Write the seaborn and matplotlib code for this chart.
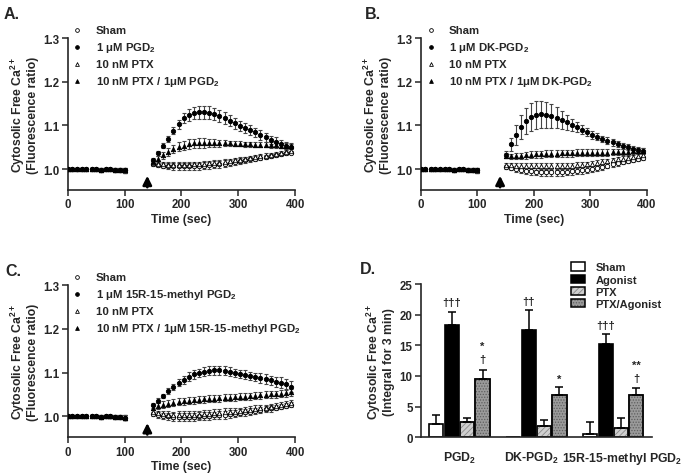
import pandas as pd
import matplotlib
matplotlib.use("Agg")
import matplotlib.pyplot as plt
from matplotlib.patches import Patch, Rectangle
from matplotlib.transforms import ScaledTranslation
import seaborn as sns

# ---- time course data (mean and error) ----
base_time = [0, 8, 17, 25, 33, 42, 50, 58, 67, 75, 83, 92, 100]
post_time = [150, 159, 168, 177, 186, 195, 204, 213, 222, 231, 240, 249, 258, 267,
             276, 285, 294, 303, 312, 321, 330, 339, 348, 357, 366, 375, 384, 393]

base_value = [1.000, 1.000, 1.001, 1.000, 1.001, 1.000, 1.000, 0.999, 1.000, 1.000, 0.999, 0.999, 0.997]
base_err = [0.002, 0.002, 0.002, 0.002, 0.002, 0.002, 0.002, 0.003, 0.002, 0.003, 0.003, 0.003, 0.005]

# A. PGD2
a_sham = [1.012, 1.010, 1.008, 1.007, 1.006, 1.006, 1.006, 1.006, 1.006, 1.007, 1.008, 1.009, 1.010, 1.011,
          1.012, 1.014, 1.016, 1.018, 1.020, 1.022, 1.024, 1.026, 1.028, 1.030, 1.032, 1.034, 1.036, 1.038]
a_sham_err = [0.004, 0.005, 0.006, 0.007, 0.007, 0.008, 0.008, 0.008, 0.008, 0.008, 0.008, 0.008, 0.008, 0.008,
              0.008, 0.007, 0.007, 0.007, 0.007, 0.006, 0.006, 0.006, 0.005, 0.005, 0.005, 0.004, 0.004, 0.004]
a_agonist = [1.020, 1.036, 1.054, 1.069, 1.088, 1.103, 1.117, 1.124, 1.128, 1.130, 1.130, 1.129, 1.126, 1.122,
             1.117, 1.111, 1.105, 1.099, 1.094, 1.089, 1.084, 1.078, 1.073, 1.067, 1.063, 1.058, 1.054, 1.050]
a_agonist_err = [0.006, 0.005, 0.005, 0.006, 0.008, 0.010, 0.012, 0.013, 0.014, 0.015, 0.015, 0.015, 0.014, 0.014,
                 0.013, 0.012, 0.012, 0.012, 0.011, 0.011, 0.011, 0.011, 0.010, 0.010, 0.010, 0.009, 0.009, 0.009]
a_ptx = [1.014, 1.012, 1.011, 1.010, 1.010, 1.010, 1.010, 1.010, 1.011, 1.011, 1.012, 1.013, 1.014, 1.015,
         1.016, 1.018, 1.020, 1.021, 1.023, 1.025, 1.027, 1.029, 1.031, 1.033, 1.035, 1.037, 1.039, 1.041]
a_ptx_err = [0.004, 0.005, 0.005, 0.006, 0.006, 0.006, 0.006, 0.006, 0.006, 0.006, 0.006, 0.006, 0.006, 0.006,
             0.006, 0.006, 0.006, 0.006, 0.005, 0.005, 0.005, 0.005, 0.005, 0.005, 0.005, 0.004, 0.004, 0.004]
a_ptxag = [1.016, 1.024, 1.032, 1.040, 1.046, 1.051, 1.054, 1.057, 1.059, 1.060, 1.060, 1.060, 1.060, 1.059,
           1.059, 1.059, 1.058, 1.058, 1.057, 1.057, 1.056, 1.056, 1.056, 1.055, 1.055, 1.054, 1.053, 1.052]
a_ptxag_err = [0.005, 0.006, 0.008, 0.009, 0.010, 0.010, 0.010, 0.011, 0.011, 0.011, 0.011, 0.010, 0.009, 0.008,
               0.007, 0.006, 0.006, 0.006, 0.006, 0.006, 0.006, 0.006, 0.006, 0.006, 0.006, 0.006, 0.006, 0.006]

# B. DK-PGD2
b_sham = [1.005, 1.002, 1.000, 0.998, 0.996, 0.995, 0.994, 0.993, 0.993, 0.993, 0.993, 0.993, 0.994, 0.995,
          0.996, 0.997, 0.999, 1.001, 1.003, 1.005, 1.008, 1.011, 1.013, 1.016, 1.019, 1.021, 1.023, 1.025]
b_sham_err = [0.004, 0.005, 0.006, 0.007, 0.008, 0.008, 0.008, 0.008, 0.008, 0.008, 0.008, 0.008, 0.008, 0.008,
              0.008, 0.008, 0.007, 0.007, 0.007, 0.006, 0.006, 0.006, 0.005, 0.005, 0.005, 0.005, 0.004, 0.004]
b_agonist = [1.033, 1.057, 1.078, 1.096, 1.110, 1.120, 1.125, 1.126, 1.125, 1.122, 1.118, 1.113, 1.107, 1.101,
             1.096, 1.090, 1.085, 1.079, 1.074, 1.069, 1.065, 1.061, 1.057, 1.053, 1.050, 1.047, 1.044, 1.042]
b_agonist_err = [0.008, 0.015, 0.022, 0.027, 0.030, 0.032, 0.032, 0.031, 0.030, 0.027, 0.024, 0.020, 0.017, 0.014,
                 0.012, 0.010, 0.009, 0.009, 0.008, 0.008, 0.008, 0.007, 0.007, 0.007, 0.007, 0.007, 0.007, 0.007]
b_ptx = [1.010, 1.009, 1.008, 1.007, 1.006, 1.006, 1.006, 1.006, 1.006, 1.006, 1.006, 1.007, 1.007, 1.008,
         1.009, 1.010, 1.011, 1.012, 1.014, 1.016, 1.018, 1.020, 1.022, 1.024, 1.026, 1.028, 1.030, 1.032]
b_ptx_err = [0.004, 0.005, 0.006, 0.006, 0.007, 0.007, 0.007, 0.007, 0.007, 0.007, 0.007, 0.007, 0.007, 0.007,
             0.007, 0.006, 0.006, 0.006, 0.006, 0.006, 0.005, 0.005, 0.005, 0.005, 0.005, 0.005, 0.005, 0.005]
b_ptxag = [1.031, 1.029, 1.030, 1.031, 1.032, 1.033, 1.034, 1.034, 1.035, 1.035, 1.035, 1.036, 1.036, 1.036,
           1.037, 1.037, 1.037, 1.037, 1.038, 1.038, 1.038, 1.039, 1.039, 1.040, 1.040, 1.041, 1.041, 1.042]
b_ptxag_err = [0.006, 0.006, 0.007, 0.007, 0.008, 0.008, 0.008, 0.008, 0.008, 0.008, 0.008, 0.008, 0.008, 0.008,
               0.008, 0.008, 0.008, 0.008, 0.008, 0.007, 0.007, 0.007, 0.007, 0.007, 0.007, 0.007, 0.007, 0.007]

# C. 15R-15-methyl PGD2
c_sham = [1.006, 1.003, 1.001, 1.000, 0.999, 0.999, 0.999, 0.999, 0.999, 1.000, 1.000, 1.001, 1.002, 1.003,
          1.004, 1.005, 1.006, 1.008, 1.009, 1.011, 1.013, 1.015, 1.016, 1.018, 1.020, 1.022, 1.024, 1.027]
c_sham_err = [0.005, 0.006, 0.007, 0.008, 0.009, 0.009, 0.009, 0.009, 0.009, 0.009, 0.009, 0.009, 0.009, 0.009,
              0.009, 0.009, 0.008, 0.008, 0.008, 0.008, 0.007, 0.007, 0.007, 0.007, 0.006, 0.006, 0.006, 0.006]
c_agonist = [1.025, 1.036, 1.047, 1.058, 1.068, 1.077, 1.084, 1.091, 1.096, 1.099, 1.102, 1.104, 1.105, 1.105,
             1.104, 1.102, 1.099, 1.097, 1.095, 1.092, 1.090, 1.087, 1.085, 1.082, 1.079, 1.077, 1.074, 1.068]
c_agonist_err = [0.005, 0.005, 0.005, 0.006, 0.007, 0.008, 0.009, 0.010, 0.010, 0.010, 0.010, 0.010, 0.010, 0.010,
                 0.010, 0.010, 0.010, 0.010, 0.010, 0.010, 0.010, 0.011, 0.011, 0.011, 0.011, 0.012, 0.012, 0.012]
c_ptx = [1.010, 1.007, 1.005, 1.004, 1.003, 1.003, 1.003, 1.003, 1.003, 1.004, 1.005, 1.006, 1.007, 1.008,
         1.009, 1.010, 1.011, 1.012, 1.014, 1.015, 1.017, 1.018, 1.020, 1.022, 1.024, 1.026, 1.028, 1.030]
c_ptx_err = [0.005, 0.006, 0.007, 0.008, 0.008, 0.009, 0.009, 0.009, 0.009, 0.009, 0.009, 0.009, 0.009, 0.009,
             0.009, 0.009, 0.009, 0.008, 0.008, 0.008, 0.008, 0.008, 0.007, 0.007, 0.007, 0.007, 0.007, 0.007]
c_ptxag = [1.020, 1.024, 1.027, 1.029, 1.031, 1.033, 1.035, 1.036, 1.037, 1.038, 1.039, 1.040, 1.040, 1.041,
           1.042, 1.043, 1.044, 1.045, 1.045, 1.046, 1.047, 1.048, 1.049, 1.050, 1.051, 1.052, 1.053, 1.055]
c_ptxag_err = [0.006, 0.007, 0.007, 0.008, 0.008, 0.008, 0.008, 0.008, 0.008, 0.008, 0.008, 0.008, 0.008, 0.008,
               0.008, 0.008, 0.008, 0.008, 0.008, 0.008, 0.008, 0.008, 0.008, 0.008, 0.008, 0.008, 0.008, 0.008]

# ---- bar chart data (integral for 3 min) ----
agents = ["PGD$_2$", "DK-PGD$_2$", "15R-15-methyl PGD$_2$"]
treatments = ["Sham", "Agonist", "PTX", "PTX/Agonist"]
bar_sham = [2.2, 0.0, 0.55]
bar_sham_err = [1.45, 0.0, 1.9]
bar_agonist = [18.3, 17.5, 15.2]
bar_agonist_err = [2.1, 3.2, 1.6]
bar_ptx = [2.55, 1.9, 1.45]
bar_ptx_err = [0.6, 0.85, 1.75]
bar_ptxag = [9.5, 6.9, 6.9]
bar_ptxag_err = [1.5, 1.25, 1.15]

# ---- style ----
sns.set_style("ticks")
plt.rcParams["font.family"] = ["Liberation Sans", "DejaVu Sans"]
plt.rcParams["font.weight"] = "bold"
plt.rcParams["axes.labelweight"] = "bold"
plt.rcParams["mathtext.fontset"] = "custom"
plt.rcParams["mathtext.rm"] = "Liberation Sans:bold"
plt.rcParams["mathtext.bf"] = "Liberation Sans:bold"
plt.rcParams["mathtext.it"] = "Liberation Sans:bold"
plt.rcParams["mathtext.default"] = "rm"
plt.rcParams["hatch.linewidth"] = 0.6

series_style = [("Sham", "o", "white"), ("Agonist", "o", "black"),
                ("PTX", "^", "white"), ("PTX/Agonist", "^", "black")]


def build_frame(groups):
    rows = []
    for name, vals, errs in groups:
        for t, v, e in zip(base_time + post_time, base_value + vals, base_err + errs):
            rows.append({"time": t, "value": v, "err": e, "series": name})
    return pd.DataFrame(rows)


def time_panel(ax, df, labels):
    for (name, marker, face), lab in zip(series_style, labels):
        sub = df[df["series"] == name]
        ax.errorbar(sub["time"], sub["value"], yerr=sub["err"], fmt="none", ecolor="#444444",
                    elinewidth=0.8, capsize=1.6, capthick=0.8, zorder=2)
        sns.scatterplot(data=sub, x="time", y="value", marker=marker, color=face, edgecolor="black",
                        linewidth=0.6, s=10, label=lab, legend=False, ax=ax, zorder=3)
    ax.set_xlim(0, 400)
    ax.set_ylim(0.952, 1.3)
    ax.set_xticks([0, 100, 200, 300, 400])
    ax.set_yticks([1.0, 1.1, 1.2, 1.3])
    ax.set_yticklabels(["1.0", "1.1", "1.2", "1.3"])
    ax.set_xlabel("Time (sec)", fontsize=8.8, labelpad=2)
    ax.set_ylabel("Cytosolic Free Ca$^{2+}$\n(Fluorescence ratio)", fontsize=8.8, labelpad=3, linespacing=1.0)
    ax.tick_params(labelsize=8.3, width=1.1, length=4, pad=2)
    for s in ["left", "bottom"]:
        ax.spines[s].set_linewidth(1.2)
    sns.despine(ax=ax)
    ax.annotate("", xy=(140, 0.991), xytext=(140, 0.952),
                arrowprops=dict(arrowstyle="-|>", color="black", lw=1.9, mutation_scale=13))
    handles, labs = ax.get_legend_handles_labels()
    ax.legend(handles, labs, loc="upper left", bbox_to_anchor=(0.0, 1.115), frameon=False,
              fontsize=8.2, handlelength=0.9, handletextpad=1.15, labelspacing=0.42,
              borderaxespad=0, scatterpoints=1, markerscale=0.85)


fig = plt.figure(figsize=(6.89, 4.77), dpi=100)
ax_a = fig.add_axes([0.0983, 0.5996, 0.330, 0.318])
ax_b = fig.add_axes([0.611, 0.5996, 0.328, 0.318])
ax_c = fig.add_axes([0.0983, 0.0811, 0.330, 0.319])
ax_d = fig.add_axes([0.611, 0.0811, 0.335, 0.3214])

df_a = build_frame([("Sham", a_sham, a_sham_err), ("Agonist", a_agonist, a_agonist_err),
                    ("PTX", a_ptx, a_ptx_err), ("PTX/Agonist", a_ptxag, a_ptxag_err)])
df_b = build_frame([("Sham", b_sham, b_sham_err), ("Agonist", b_agonist, b_agonist_err),
                    ("PTX", b_ptx, b_ptx_err), ("PTX/Agonist", b_ptxag, b_ptxag_err)])
df_c = build_frame([("Sham", c_sham, c_sham_err), ("Agonist", c_agonist, c_agonist_err),
                    ("PTX", c_ptx, c_ptx_err), ("PTX/Agonist", c_ptxag, c_ptxag_err)])

time_panel(ax_a, df_a, ["Sham", "1 \u03bcM PGD$_2$", "10 nM PTX", "10 nM PTX / 1\u03bcM PGD$_2$"])
time_panel(ax_b, df_b, ["Sham", "1 \u03bcM DK-PGD$_2$", "10 nM PTX", "10 nM PTX / 1\u03bcM DK-PGD$_2$"])
time_panel(ax_c, df_c, ["Sham", "1 \u03bcM 15R-15-methyl PGD$_2$", "10 nM PTX",
                        "10 nM PTX / 1\u03bcM 15R-15-methyl PGD$_2$"])

# ---- D. bar chart ----
bar_df = pd.DataFrame({
    "agent": agents * 4,
    "treatment": [t for t in treatments for _ in agents],
    "value": bar_sham + bar_agonist + bar_ptx + bar_ptxag,
    "err": bar_sham_err + bar_agonist_err + bar_ptx_err + bar_ptxag_err,
})
bar_fill = {"Sham": "white", "Agonist": "black", "PTX": "#cfcfcf", "PTX/Agonist": "#9a9a9a"}
bar_hatch = {"Sham": None, "Agonist": None, "PTX": "//////", "PTX/Agonist": "......"}
hatch_col = {"Sham": "black", "Agonist": "black", "PTX": "#8a8a8a", "PTX/Agonist": "#5e5e5e"}

sns.barplot(data=bar_df, x="agent", y="value", hue="treatment", hue_order=treatments,
            palette=bar_fill, edgecolor="black", linewidth=1.2, errorbar=None, gap=0.08,
            width=0.8, legend=False, ax=ax_d)

for i, t in enumerate(treatments):
    for j in range(len(agents)):
        p = ax_d.patches[i * len(agents) + j]
        if bar_hatch[t]:
            p.set_edgecolor(hatch_col[t])
            p.set_hatch(bar_hatch[t])
            ax_d.add_patch(Rectangle(p.get_xy(), p.get_width(), p.get_height(), fill=False,
                                     edgecolor="black", linewidth=1.2, zorder=p.get_zorder() + 0.1))
        cx = p.get_x() + p.get_width() / 2
        e = bar_df["err"].iloc[i * len(agents) + j]
        if e > 0:
            ax_d.errorbar([cx], [p.get_height()], yerr=[[0], [e]], fmt="none", ecolor="black",
                          elinewidth=1.1, capsize=3, capthick=1.1, zorder=1)

# significance marks
marks = [(0, 1, "\u2020\u2020\u2020", 22.0), (0, 3, "*", 14.9), (0, 3, "\u2020", 12.8),
         (1, 1, "\u2020\u2020", 22.3), (1, 3, "*", 9.6),
         (2, 1, "\u2020\u2020\u2020", 18.3), (2, 3, "**", 11.8), (2, 3, "\u2020", 9.7)]
for g, h, txt, y in marks:
    p = ax_d.patches[h * len(agents) + g]
    ax_d.text(p.get_x() + p.get_width() / 2, y, txt, ha="center", va="center", fontsize=8)

ax_d.set_xlim(-0.5, 2.5)
ax_d.set_ylim(0, 25)
ax_d.set_yticks([0, 5, 10, 15, 20, 25])
ax_d.set_xlabel("")
ax_d.set_ylabel("Cytosolic Free Ca$^{2+}$\n(Integral for 3 min)", fontsize=8.8, labelpad=3, linespacing=1.0)
ax_d.tick_params(axis="y", labelsize=8.3, width=1.1, length=4, pad=2)
ax_d.tick_params(axis="x", labelsize=8.8, length=0, pad=9)
for s in ["left", "bottom"]:
    ax_d.spines[s].set_linewidth(1.2)
sns.despine(ax=ax_d)

# GraphPad-style nudge of the crowded category labels
for lab, dx in zip(ax_d.get_xticklabels(), [0, -5, 9]):
    lab.set_transform(lab.get_transform() + ScaledTranslation(dx / 100, 0, fig.dpi_scale_trans))

leg_handles = []
for t in treatments:
    if bar_hatch[t]:
        leg_handles.append((Patch(facecolor=bar_fill[t], edgecolor=hatch_col[t], hatch=bar_hatch[t], linewidth=0),
                            Patch(fill=False, edgecolor="black", linewidth=1.1)))
    else:
        leg_handles.append(Patch(facecolor=bar_fill[t], edgecolor="black", linewidth=1.1))
ax_d.legend(leg_handles, treatments, loc="upper left", bbox_to_anchor=(0.63, 1.17), frameon=False,
            fontsize=8, handlelength=1.3, handleheight=0.75, labelspacing=0.2, handletextpad=0.9,
            borderaxespad=0)

# panel letters
for x, y, s in [(0.005, 0.985, "A."), (0.530, 0.985, "B."), (0.008, 0.447, "C."), (0.522, 0.450, "D.")]:
    fig.text(x, y, s, fontsize=11.5, fontweight="bold", ha="left", va="top")

fig.savefig("out.png", dpi=100)
